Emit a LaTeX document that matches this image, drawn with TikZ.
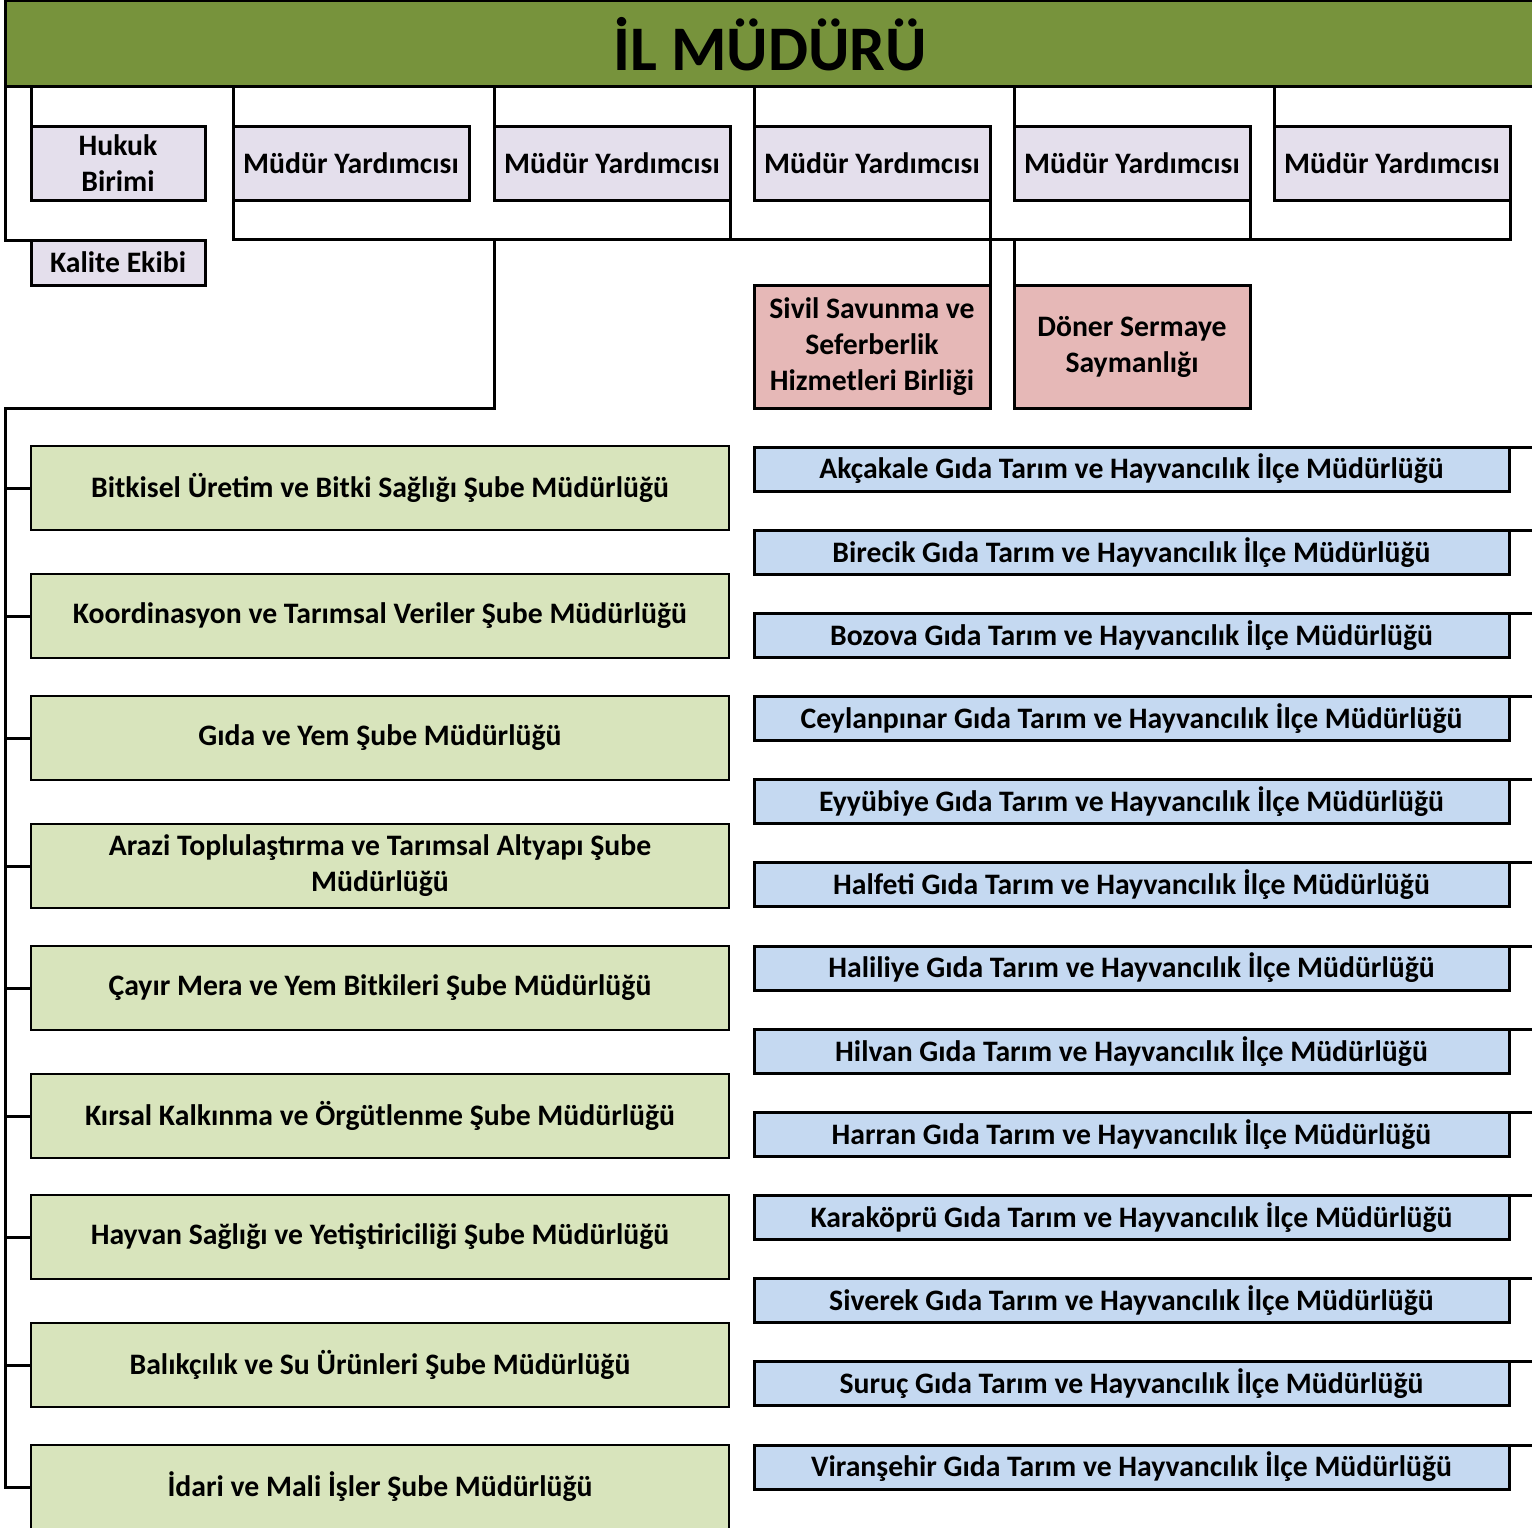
\documentclass[tikz,border=0pt]{standalone}
\usepackage{fontspec}
\setmainfont{Carlito}

\definecolor{baslikyesil}{HTML}{77933C}
\definecolor{lila}{HTML}{E4DFEC}
\definecolor{pembe}{HTML}{E6B8B7}
\definecolor{acikyesil}{HTML}{D8E4BC}
\definecolor{acikmavi}{HTML}{C5D9F1}

\tikzset{
  kutu/.style={draw=black, line width=3pt, rectangle, anchor=north west,
    inner sep=0pt, outer sep=0pt, align=center,
    font=\fontsize{29.7}{36}\selectfont\bfseries},
  birim/.style={kutu, fill=lila},
  ozel/.style={kutu, fill=pembe, minimum width=236pt, minimum height=123pt},
  sube/.style={kutu, fill=acikyesil, line width=2.5pt, minimum width=698pt, minimum height=84pt},
  ilce/.style={kutu, fill=acikmavi, minimum width=755pt, minimum height=44pt},
  hat/.style={draw=black, line width=3pt},
}

\begin{document}
\begin{tikzpicture}[x=1pt, y=-1pt]
  \useasboundingbox (0,0) rectangle (1532,1528);
  % Il Muduru
  \node[kutu, fill=baslikyesil, minimum width=1530pt, minimum height=86pt,
    font=\fontsize{63.5}{70}\selectfont\bfseries] (il) at (5,1) {İL MÜDÜRÜ};
  % Birimler ve mudur yardimcilari
  \node[birim, minimum width=174pt, minimum height=74pt] (hukuk) at (31,126) {Hukuk\\Birimi};
  \node[birim, minimum width=174pt, minimum height=45pt] (kalite) at (31,240) {Kalite Ekibi};
  \foreach \x [count=\i] in {233,494,754,1014,1274}
    \node[birim, minimum width=236pt, minimum height=74pt] (my\i) at (\x,126) {Müdür Yardımcısı};
  \node[ozel] (sivil) at (754,285) {Sivil Savunma ve\\Seferberlik\\Hizmetleri Birliği};
  \node[ozel] (doner) at (1014,285) {Döner Sermaye\\Saymanlığı};
  % Sube mudurlukleri
  \foreach \y/\ad [count=\i] in {
      446/{Bitkisel Üretim ve Bitki Sağlığı Şube Müdürlüğü},
      574/{Koordinasyon ve Tarımsal Veriler Şube Müdürlüğü},
      696/{Gıda ve Yem Şube Müdürlüğü},
      824/{Arazi Toplulaştırma ve Tarımsal Altyapı Şube\\Müdürlüğü},
      946/{Çayır Mera ve Yem Bitkileri Şube Müdürlüğü},
      1074/{Kırsal Kalkınma ve Örgütlenme Şube Müdürlüğü},
      1195/{Hayvan Sağlığı ve Yetiştiriciliği Şube Müdürlüğü},
      1323/{Balıkçılık ve Su Ürünleri Şube Müdürlüğü},
      1445/{İdari ve Mali İşler Şube Müdürlüğü}}
    \node[sube] (sb\i) at (31,\y) {\ad};
  % Ilce mudurlukleri
  \foreach \ad [count=\i] in {Akçakale, Birecik, Bozova, Ceylanpınar, Eyyübiye, Halfeti,
      Haliliye, Hilvan, Harran, Karaköprü, Siverek, Suruç, Viranşehir}
    \node[ilce] (ilce\i) at (754,{447+83.17*(\i-1)}) {\ad\ Gıda Tarım ve Hayvancılık İlçe Müdürlüğü};
  % Baglantilar
  \coordinate (bar) at (0,239);
  \coordinate (sag) at (1540,0);
  \draw[hat] (il.south west) |- (kalite.north west);
  \draw[hat] (hukuk.north west) -- (hukuk.north west |- il.south);
  \foreach \i in {2,...,5}
    \draw[hat] (my\i.north west) -- (my\i.north west |- il.south);
  \draw[hat] (my1.north west |- il.south) -- (my1.south west) -- (my1.south west |- bar)
    -- (my5.south east |- bar) -- (my5.south east);
  \foreach \i in {2,4}
    \draw[hat] (my\i.south east) -- (my\i.south east |- bar);
  \draw[hat] (my3.south east) -- (sivil.north east);
  \draw[hat] (doner.north west) -- (doner.north west |- bar);
  % sol govde
  \draw[hat] (my2.north west |- bar) |- (il.south west |- sivil.south)
    -- (il.south west |- sb9.west) -- (sb9.west);
  \foreach \i in {1,...,8}
    \draw[hat] (sb\i.west) -- (sb\i.west -| il.south west);
  \foreach \i in {1,...,13}
    \draw[hat] (ilce\i.north east) -- (ilce\i.north east -| sag);
\end{tikzpicture}
\end{document}
